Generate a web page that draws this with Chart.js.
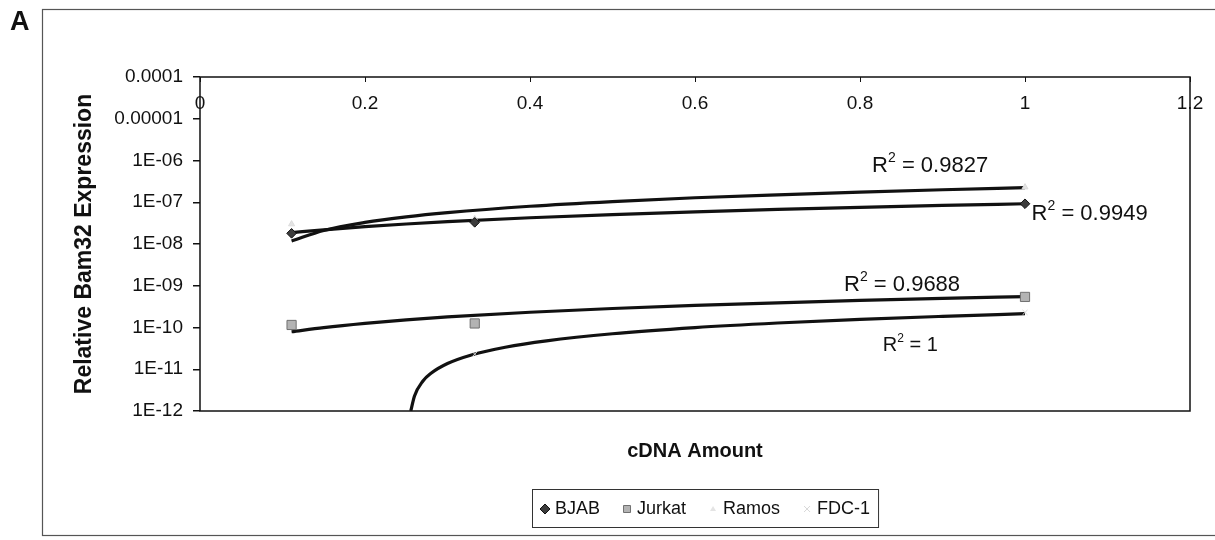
<!DOCTYPE html>
<html>
<head>
<meta charset="utf-8">
<script src="https://cdn.jsdelivr.net/npm/chart.js@4.4.1/dist/chart.umd.min.js"></script>
<style>
  html, body { margin: 0; padding: 0; background: #fff; }
  #wrap { width: 1215px; height: 540px; }
</style>
</head>
<body>
<div id="wrap"><canvas id="bam32-chart" width="1215" height="540"></canvas></div>
<script>
const cdnaAmount = [0.111, 0.333, 1];
const bjabExpr = [1.8e-8, 3.3e-8, 9.2e-8];
const jurkatExpr = [1.15e-10, 1.25e-10, 5.4e-10];
const ramosExpr = [3.0e-8, 4.0e-8, 2.3e-7];
const fdcExpr = [null, 2.3e-11, 2.3e-10];

// Linear trendlines as they appear on the log axis
const trendX = [0.111, 0.15, 0.2, 0.25, 0.3, 0.4, 0.5, 0.6, 0.7, 0.8, 0.9, 1];
const ramosTrend = [1.18e-8, 2.11e-8, 3.29e-8, 4.48e-8, 5.66e-8, 8.03e-8, 1.04e-7, 1.28e-7, 1.51e-7, 1.75e-7, 1.99e-7, 2.23e-7];
const bjabTrend = [1.87e-8, 2.19e-8, 2.6e-8, 3.01e-8, 3.43e-8, 4.25e-8, 5.08e-8, 5.9e-8, 6.73e-8, 7.55e-8, 8.38e-8, 9.2e-8];
const jurkatTrend = [7.9e-11, 9.95e-11, 1.26e-10, 1.53e-10, 1.79e-10, 2.32e-10, 2.85e-10, 3.38e-10, 3.91e-10, 4.44e-10, 4.97e-10, 5.5e-10];
const fdcTrendX = [0.2555, 0.26, 0.27, 0.28, 0.3, 0.33, 0.37, 0.42, 0.5, 0.6, 0.7, 0.8, 0.9, 1];
const fdcTrend = [1.0e-12, 2.29e-12, 5.15e-12, 8.0e-12, 1.37e-11, 2.23e-11, 3.37e-11, 4.8e-11, 7.09e-11, 9.95e-11, 1.28e-10, 1.57e-10, 1.85e-10, 2.14e-10];

// Axis ticks
const xTickValues = [0, 0.2, 0.4, 0.6, 0.8, 1, 1.2];
const xTickLabels = ["0", "0.2", "0.4", "0.6", "0.8", "1", "1.2"];
const yTickValues = [1e-12, 1e-11, 1e-10, 1e-9, 1e-8, 1e-7, 1e-6, 1e-5, 1e-4];
const yTickLabels = ["1E-12", "1E-11", "1E-10", "1E-09", "1E-08", "1E-07", "1E-06", "0.00001", "0.0001"];

// R² annotations
const rSquaredText = ["0.9827", "0.9949", "0.9688", "1"];

const FONT = '"Liberation Sans", Arial, sans-serif';
const INK = "#111";

// where each R² label sits, in data units
const rLabelSpots = [
  { x: 0.885, y: 7.5e-7, align: "center", size: 22 },
  { x: 1.008, y: 5.3e-8, align: "left", size: 22 },
  { x: 0.851, y: 1.05e-9, align: "center", size: 22 },
  { x: 0.861, y: 3.65e-11, align: "center", size: 20 }
];

function toPoints(xs, ys) {
  return xs.map((x, i) => ({ x: x, y: ys[i] })).filter(p => p.y !== null);
}

function trendSet(xs, ys) {
  return {
    data: toPoints(xs, ys),
    showLine: true,
    borderColor: INK,
    borderWidth: 3.2,
    pointRadius: 0,
    cubicInterpolationMode: "monotone",
    fill: false
  };
}

const datasets = [
  { label: "BJAB", data: toPoints(cdnaAmount, bjabExpr), pointStyle: "rectRot", pointRadius: 4.8,
    backgroundColor: "#3c3c3c", borderColor: INK, borderWidth: 1 },
  { label: "Jurkat", data: toPoints(cdnaAmount, jurkatExpr), pointStyle: "rect", pointRadius: 6.5,
    backgroundColor: "#b3b3b3", borderColor: "#707070", borderWidth: 1 },
  { label: "Ramos", data: toPoints(cdnaAmount, ramosExpr), pointStyle: "triangle", pointRadius: 3.5,
    backgroundColor: "#e4e4e4", borderColor: "#dcdcdc", borderWidth: 1 },
  { label: "FDC-1", data: toPoints(cdnaAmount, fdcExpr), pointStyle: "crossRot", pointRadius: 3.5,
    backgroundColor: "#e4e4e4", borderColor: "#d8d8d8", borderWidth: 1 },
  trendSet(trendX, ramosTrend),
  trendSet(trendX, bjabTrend),
  trendSet(trendX, jurkatTrend),
  trendSet(fdcTrendX, fdcTrend)
];

function drawMarker(ctx, style, x, y, fill, stroke) {
  ctx.save();
  ctx.fillStyle = fill;
  ctx.strokeStyle = stroke;
  ctx.lineWidth = 1;
  ctx.beginPath();
  if (style === "rectRot") {
    ctx.moveTo(x, y - 5); ctx.lineTo(x + 5, y); ctx.lineTo(x, y + 5); ctx.lineTo(x - 5, y); ctx.closePath();
    ctx.fill(); ctx.stroke();
  } else if (style === "rect") {
    ctx.rect(x - 3.5, y - 3.5, 7, 7);
    ctx.fill(); ctx.stroke();
  } else if (style === "triangle") {
    ctx.moveTo(x, y - 3); ctx.lineTo(x + 3, y + 2); ctx.lineTo(x - 3, y + 2); ctx.closePath();
    ctx.fill();
  } else {
    ctx.moveTo(x - 3, y - 3); ctx.lineTo(x + 3, y + 3);
    ctx.moveTo(x + 3, y - 3); ctx.lineTo(x - 3, y + 3);
    ctx.stroke();
  }
  ctx.restore();
}

const sheetPlugin = {
  id: "sheet",
  beforeDraw(chart) {
    const ctx = chart.ctx;
    ctx.save();
    ctx.fillStyle = "#fff";
    ctx.fillRect(0, 0, chart.width, chart.height);
    // outer chart frame (runs off the right edge)
    ctx.strokeStyle = "#555";
    ctx.lineWidth = 1.2;
    ctx.strokeRect(42.5, 9.5, 1210, 526);
    // panel letter
    ctx.fillStyle = INK;
    ctx.font = "bold 27px " + FONT;
    ctx.textBaseline = "middle";
    ctx.fillText("A", 10, 23);
    ctx.restore();
  },
  afterDraw(chart) {
    const ctx = chart.ctx;
    const area = chart.chartArea;
    const xs = chart.scales.x;
    const ys = chart.scales.y;
    ctx.save();

    // plot area border
    ctx.strokeStyle = INK;
    ctx.lineWidth = 1.5;
    ctx.strokeRect(area.left, area.top, area.right - area.left, area.bottom - area.top);

    // x ticks hang inward from the top edge, labels sit just below it
    ctx.lineWidth = 1;
    ctx.fillStyle = INK;
    ctx.font = "19px " + FONT;
    ctx.textAlign = "center";
    ctx.textBaseline = "middle";
    xs.ticks.forEach((t, i) => {
      const px = xs.getPixelForValue(t.value);
      ctx.beginPath();
      ctx.moveTo(Math.round(px) + 0.5, area.top);
      ctx.lineTo(Math.round(px) + 0.5, area.top + 5);
      ctx.stroke();
      ctx.fillText(xTickLabels[i], px, area.top + 27);
    });
    ctx.textAlign = "left";

    // R² labels
    rSquaredText.forEach((val, i) => {
      const spot = rLabelSpots[i];
      const big = spot.size + "px " + FONT;
      const small = Math.round(spot.size * 0.62) + "px " + FONT;
      ctx.font = big;
      const wR = ctx.measureText("R").width;
      const wRest = ctx.measureText(" = " + val).width;
      ctx.font = small;
      const w2 = ctx.measureText("2").width;
      const total = wR + w2 + wRest;
      let x0 = xs.getPixelForValue(spot.x);
      if (spot.align === "center") x0 -= total / 2;
      const y0 = ys.getPixelForValue(spot.y);
      ctx.font = big;
      ctx.fillText("R", x0, y0);
      ctx.font = small;
      ctx.fillText("2", x0 + wR, y0 - spot.size * 0.33);
      ctx.font = big;
      ctx.fillText(" = " + val, x0 + wR + w2, y0);
    });

    // legend box
    const lx = 532, ly = 489, lh = 38;
    const items = datasets.slice(0, 4);
    ctx.font = "18px " + FONT;
    const pad = 8, mark = 10, markGap = 5, itemGap = 22;
    let total = pad * 2;
    items.forEach((d, i) => {
      total += mark + markGap + ctx.measureText(d.label).width + (i < items.length - 1 ? itemGap : 0);
    });
    ctx.strokeStyle = "#333";
    ctx.lineWidth = 1;
    ctx.strokeRect(lx + 0.5, ly + 0.5, total, lh);
    let cx = lx + pad;
    const cy = ly + lh / 2 + 1;
    items.forEach(d => {
      drawMarker(ctx, d.pointStyle, cx + mark / 2, cy, d.backgroundColor, d.borderColor);
      cx += mark + markGap;
      ctx.fillStyle = INK;
      ctx.fillText(d.label, cx, cy);
      cx += ctx.measureText(d.label).width + itemGap;
    });

    ctx.restore();
  }
};

new Chart(document.getElementById("bam32-chart"), {
  type: "scatter",
  data: { datasets: datasets },
  options: {
    responsive: false,
    animation: false,
    devicePixelRatio: 1,
    events: [],
    layout: { padding: { top: 77, right: 25, bottom: 49, left: 0 } },
    plugins: {
      legend: { display: false },
      tooltip: { enabled: false }
    },
    scales: {
      x: {
        type: "linear",
        position: "top",
        min: 0,
        max: 1.2,
        afterBuildTicks: s => { s.ticks = xTickValues.map(v => ({ value: v })); },
        afterFit: s => { s.height = 0; },
        ticks: { display: false },
        grid: { display: false },
        border: { display: false }
      },
      x2: {
        type: "linear",
        position: "bottom",
        afterFit: s => { s.height = 80; },
        ticks: { display: false },
        grid: { display: false },
        border: { display: false },
        title: {
          display: true,
          text: "cDNA Amount",
          font: { family: FONT, size: 20, weight: "bold" },
          color: INK,
          padding: { top: 0, bottom: 28 }
        }
      },
      y: {
        type: "logarithmic",
        position: "left",
        min: 1e-12,
        max: 1e-4,
        afterBuildTicks: s => { s.ticks = yTickValues.map(v => ({ value: v })); },
        afterFit: s => { s.width = 200; },
        ticks: {
          callback: (v, i) => yTickLabels[i],
          font: { family: FONT, size: 19 },
          color: INK,
          padding: 10,
          autoSkip: false
        },
        grid: { display: true, drawOnChartArea: false, drawTicks: true, tickLength: 7, color: INK, lineWidth: 1.5 },
        border: { display: false },
        title: {
          display: true,
          text: "Relative Bam32 Expression",
          font: { family: FONT, size: 23, weight: "bold" },
          color: INK,
          padding: { top: 71, bottom: 0 }
        }
      }
    }
  },
  plugins: [sheetPlugin]
});
</script>
</body>
</html>
